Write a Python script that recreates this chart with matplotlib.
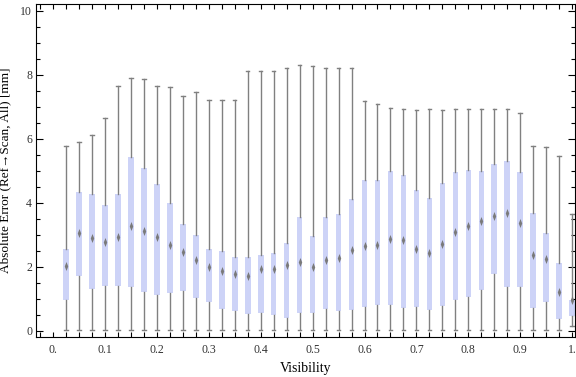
import numpy as np
import matplotlib
matplotlib.use('Agg')
import matplotlib.pyplot as plt
from matplotlib.ticker import MultipleLocator, FixedLocator

# box positions (visibility bins)
vis = np.arange(1, 41) * 0.025

# whisker tops
whi = [5.77, 5.88, 6.10, 6.64, 7.63, 7.88, 7.85, 7.63, 7.60, 7.32,
       7.44, 7.22, 7.19, 7.19, 8.10, 8.10, 8.10, 8.22, 8.29, 8.26,
       8.22, 8.22, 8.22, 7.16, 7.07, 6.97, 6.91, 6.88, 6.91, 6.88,
       6.91, 6.91, 6.91, 6.91, 6.91, 6.79, 5.76, 5.73, 5.45, 3.63]
# upper quartile
q3 = [2.55, 4.32, 4.26, 3.92, 4.26, 5.42, 5.08, 4.59, 4.00, 3.33,
      2.98, 2.55, 2.48, 2.30, 2.30, 2.36, 2.42, 2.73, 3.54, 2.95,
      3.54, 3.64, 4.10, 4.70, 4.70, 4.98, 4.86, 4.39, 4.14, 4.61,
      4.95, 5.02, 4.98, 5.20, 5.30, 4.95, 3.67, 3.05, 2.11, 0.97]
# median
med = [2.02, 3.06, 2.88, 2.76, 2.93, 3.28, 3.11, 2.91, 2.66, 2.45,
       2.22, 1.99, 1.86, 1.77, 1.72, 1.91, 1.94, 2.04, 2.15, 1.98,
       2.21, 2.28, 2.53, 2.65, 2.66, 2.85, 2.83, 2.55, 2.43, 2.70,
       3.07, 3.28, 3.42, 3.57, 3.67, 3.35, 2.37, 2.24, 1.20, 0.97]
# lower quartile
q1 = [0.97, 1.71, 1.31, 1.41, 1.40, 1.36, 1.21, 1.11, 1.18, 1.24,
      1.03, 0.90, 0.68, 0.62, 0.51, 0.56, 0.49, 0.41, 0.56, 0.55,
      0.68, 0.62, 0.66, 0.74, 0.80, 0.81, 0.71, 0.74, 0.65, 0.78,
      0.96, 1.06, 1.28, 1.76, 1.37, 1.37, 0.71, 0.90, 0.37, 0.46]
# whisker bottoms
wlo = [0.02] * 39 + [0.14]

xtick_vals = np.arange(0, 11) * 0.1
xtick_labels = ['0.', '0.1', '0.2', '0.3', '0.4', '0.5', '0.6', '0.7', '0.8', '0.9', '1.']

serif = ['Liberation Serif', 'DejaVu Serif']

stats = [dict(whislo=a, q1=b, med=c, q3=d, whishi=e, fliers=[])
         for a, b, c, d, e in zip(wlo, q1, med, q3, whi)]

fig = plt.figure(figsize=(5.76, 3.77), dpi=100)
ax = fig.add_axes([0.063, 0.106, 0.935, 0.883])

ax.bxp(stats, positions=vis, widths=0.011, capwidths=0.007,
       patch_artist=True, manage_ticks=False,
       boxprops=dict(facecolor='#cdd3f7', edgecolor='none', linewidth=0),
       whiskerprops=dict(color='#808080', linewidth=1.0),
       capprops=dict(color='#808080', linewidth=1.0),
       medianprops=dict(visible=False), zorder=2)

diamond = [(0, 1), (0.38, 0), (0, -1), (-0.38, 0), (0, 1)]
ax.plot(vis, med, linestyle='none', marker=diamond, markersize=6.5,
        color='#7a7a7a', markeredgewidth=0, zorder=4)

ax.set_xlim(-0.032, 1.005)
ax.set_ylim(-0.2, 10.2)

ax.xaxis.set_major_locator(FixedLocator(xtick_vals))
ax.set_xticklabels(xtick_labels)
ax.xaxis.set_minor_locator(MultipleLocator(0.025))
ax.yaxis.set_major_locator(MultipleLocator(2))
ax.yaxis.set_minor_locator(MultipleLocator(0.5))

ax.tick_params(which='both', direction='in', top=True, right=True,
               colors='black', labelcolor='#333333', width=0.8)
ax.tick_params(axis='x', which='both', length=3.5, pad=5)
ax.tick_params(axis='y', which='major', length=5, pad=3)
ax.tick_params(axis='y', which='minor', length=3)
for lab in ax.get_xticklabels() + ax.get_yticklabels():
    lab.set_family(serif)
    lab.set_fontsize(8.5)

for s in ax.spines.values():
    s.set_linewidth(0.8)

ax.set_xlabel('Visibility', family=serif, fontsize=10, labelpad=4)
ax.set_ylabel('Absolute Error (Ref\u2192Scan, All) [mm]', family=serif,
              fontsize=9.5)
ax.yaxis.set_label_coords(-0.047, 0.5)

fig.savefig('out.png', dpi=100)
